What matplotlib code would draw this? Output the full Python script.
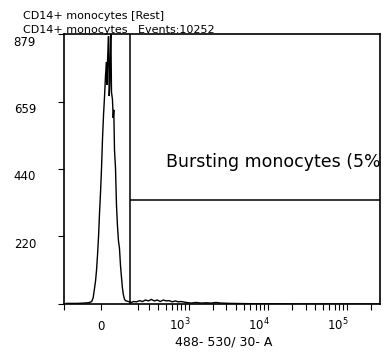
import matplotlib
matplotlib.use('Agg')
import matplotlib.pyplot as plt
import matplotlib.transforms as mtransforms

# ---------------- data ----------------
fluorescence = [-184, -148, -113, -81, -61, -52, -42, -35, -28.5, -24, -19.4, -15,
                -10.3, -5.8, -1.3, 3.1, 7.6, 12.1, 16.6, 21.2, 25.7, 28.0, 30.3,
                34.9, 38.1, 40.9, 44.2, 46.0, 48.8, 53.6, 56.9, 59.8, 63.2, 68.1,
                73.0, 78.0, 83.1, 88.2, 93.4, 98.7, 104, 109.5, 115, 120.7, 126.5,
                138, 144.5, 157, 170, 192, 214, 237, 263, 291, 319, 351, 385, 423,
                465, 508, 556, 609, 667, 729, 797, 922, 1068, 1237, 1432, 1656,
                1916, 2217, 2563, 3427, 6107, 26000, 262143]
counts = [2, 2, 2, 3, 4, 5, 8, 20, 52, 75, 111, 160,
          221, 299, 365, 443, 540, 615, 674, 745, 788, 713, 788,
          872, 677, 713, 860, 879, 690, 664, 606, 632, 502, 443,
          322, 254, 205, 182, 127, 88, 52, 29, 16, 11, 10,
          8, 7, 5, 8, 7, 11, 8, 13, 10, 15, 10, 13, 8,
          13, 10, 11, 7, 10, 7, 8, 5, 3, 5, 3, 4,
          3, 5, 3, 2, 1, 0, 0]

x_major = [-200, 0, 200, 1e3, 1e4, 1e5]
x_major_labels = ['', '0', '', r'$10^3$', r'$10^4$', r'$10^5$']
x_minor = [300, 400, 500, 600, 700, 800, 900,
           2e3, 3e3, 4e3, 5e3, 6e3, 7e3, 8e3, 9e3,
           2e4, 3e4, 4e4, 5e4, 6e4, 7e4, 8e4, 9e4, 2e5]
x_limits = [-200, 262143]
y_ticks = [0, 220, 440, 659, 879]
y_labels = ['', '220', '440', '659', '879']

gate_x = 145
gate_y = 338
gate_label = "Bursting monocytes (5%)"
gate_label_pos = (508, 447)

title_lines = ["CD14+ monocytes [Rest]", "CD14+ monocytes   Events:10252"]
x_label = "488- 530/ 30- A"

# ---------------- figure ----------------
plt.rcParams['font.family'] = ['DejaVu Sans']
plt.rcParams['mathtext.fontset'] = 'dejavusans'
plt.rcParams['mathtext.default'] = 'regular'

W, H = 383, 354
fig = plt.figure(figsize=(W / 100, H / 100), dpi=100)
ax = fig.add_axes([64 / W, 1 - 304 / H, 316 / W, 270 / H])

ax.set_xscale('asinh', linear_width=155)
ax.set_xlim(*x_limits)
ax.set_ylim(y_ticks[0], y_ticks[-1])

ax.plot(fluorescence, counts, color='black', lw=1.0, solid_joinstyle='miter')

# gate
ax.axvline(gate_x, color='black', lw=1.1)
ax.hlines(gate_y, gate_x, x_limits[1], color='black', lw=1.1)
ax.text(gate_label_pos[0], gate_label_pos[1], gate_label, fontsize=12.5,
        va='baseline', ha='left', clip_on=True, color='black')

for s in ax.spines.values():
    s.set_linewidth(1.2)
    s.set_color('black')

# x ticks
ax.set_xticks(x_major)
ax.set_xticklabels(x_major_labels)
ax.set_xticks(x_minor, minor=True)
ax.tick_params(axis='x', which='both', direction='out', length=4.3, width=0.8,
               labelsize=8.5, pad=14.4)
off_right = mtransforms.ScaledTranslation(2 / 100, 0, fig.dpi_scale_trans)
for lab, txt in zip(ax.get_xticklabels(), x_major_labels):
    lab.set_verticalalignment('baseline')
    if txt.startswith('$'):
        lab.set_horizontalalignment('right')
        lab.set_transform(lab.get_transform() + off_right)

# y ticks
ax.set_yticks(y_ticks)
ax.set_yticklabels(y_labels)
ax.tick_params(axis='y', direction='out', length=4.3, width=0.8,
               labelsize=8.5, pad=15.8)
off_down = mtransforms.ScaledTranslation(0, -1.5 / 100, fig.dpi_scale_trans)
for lab in ax.get_yticklabels():
    lab.set_verticalalignment('top')
    lab.set_transform(lab.get_transform() + off_down)

ax.set_xlabel(x_label, fontsize=9, va='top')
ax.xaxis.set_label_coords(0.5 + 2 / 316, -33 / 270 + 0.004)

fig.text(23 / W, 1 - 18.7 / H, title_lines[0], fontsize=8, va='baseline', ha='left')
fig.text(23 / W, 1 - 33 / H, title_lines[1], fontsize=8, va='baseline', ha='left')

fig.savefig('out.png', dpi=100)
